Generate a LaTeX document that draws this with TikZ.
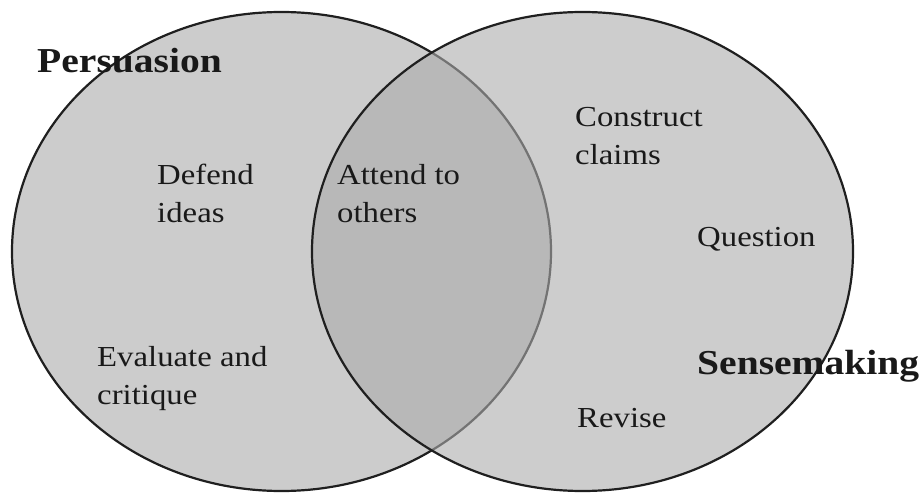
\documentclass[tikz,border=0pt]{standalone}
\usepackage{fontspec}
\setmainfont{Liberation Serif}
\usetikzlibrary{positioning}

\colorlet{setfill}{black!20}
\colorlet{setline}{black!88}

\begin{document}
\begin{tikzpicture}[x=1pt, y=-1pt,
                    every node/.style={inner sep=0pt, anchor=base west,
                                       xscale=1.13, text=black!90},
                    item/.style={font=\fontsize{29}{38}\selectfont, align=left},
                    title/.style={font=\fontsize{35}{42}\selectfont\bfseries},
                    set/.style={draw=setline, line width=2.2pt}]
    \useasboundingbox (0,0) rectangle (924,494);

    % the two sets, the right one see-through so the overlap darkens
    \draw[set, fill=setfill] (281.5,251.5) ellipse [x radius=269.5, y radius=239.5];
    \draw[set, fill=black!33, fill opacity=0.6] (582.5,251.5) ellipse [x radius=270.5, y radius=239.5];

    % multi-line labels sit on the baseline of their last line
    \node[title] (persuasion)  at (37,73)   {Persuasion};
    \node[item]  (defend)      at (157,223) {Defend\\ideas};
    \node[item]  (attend)      at (337,223) {Attend to\\others};
    \node[item]  (evaluate)    at (97,404)  {Evaluate and\\critique};

    \node[item]  (construct)   at (575,165) {Construct\\claims};
    \node[item]  (question)    at (697,247) {Question};
    \node[title] (sensemaking) at (697,374) {Sensemaking};
    \node[item]  (revise)      at (577,427) {Revise};
\end{tikzpicture}
\end{document}
